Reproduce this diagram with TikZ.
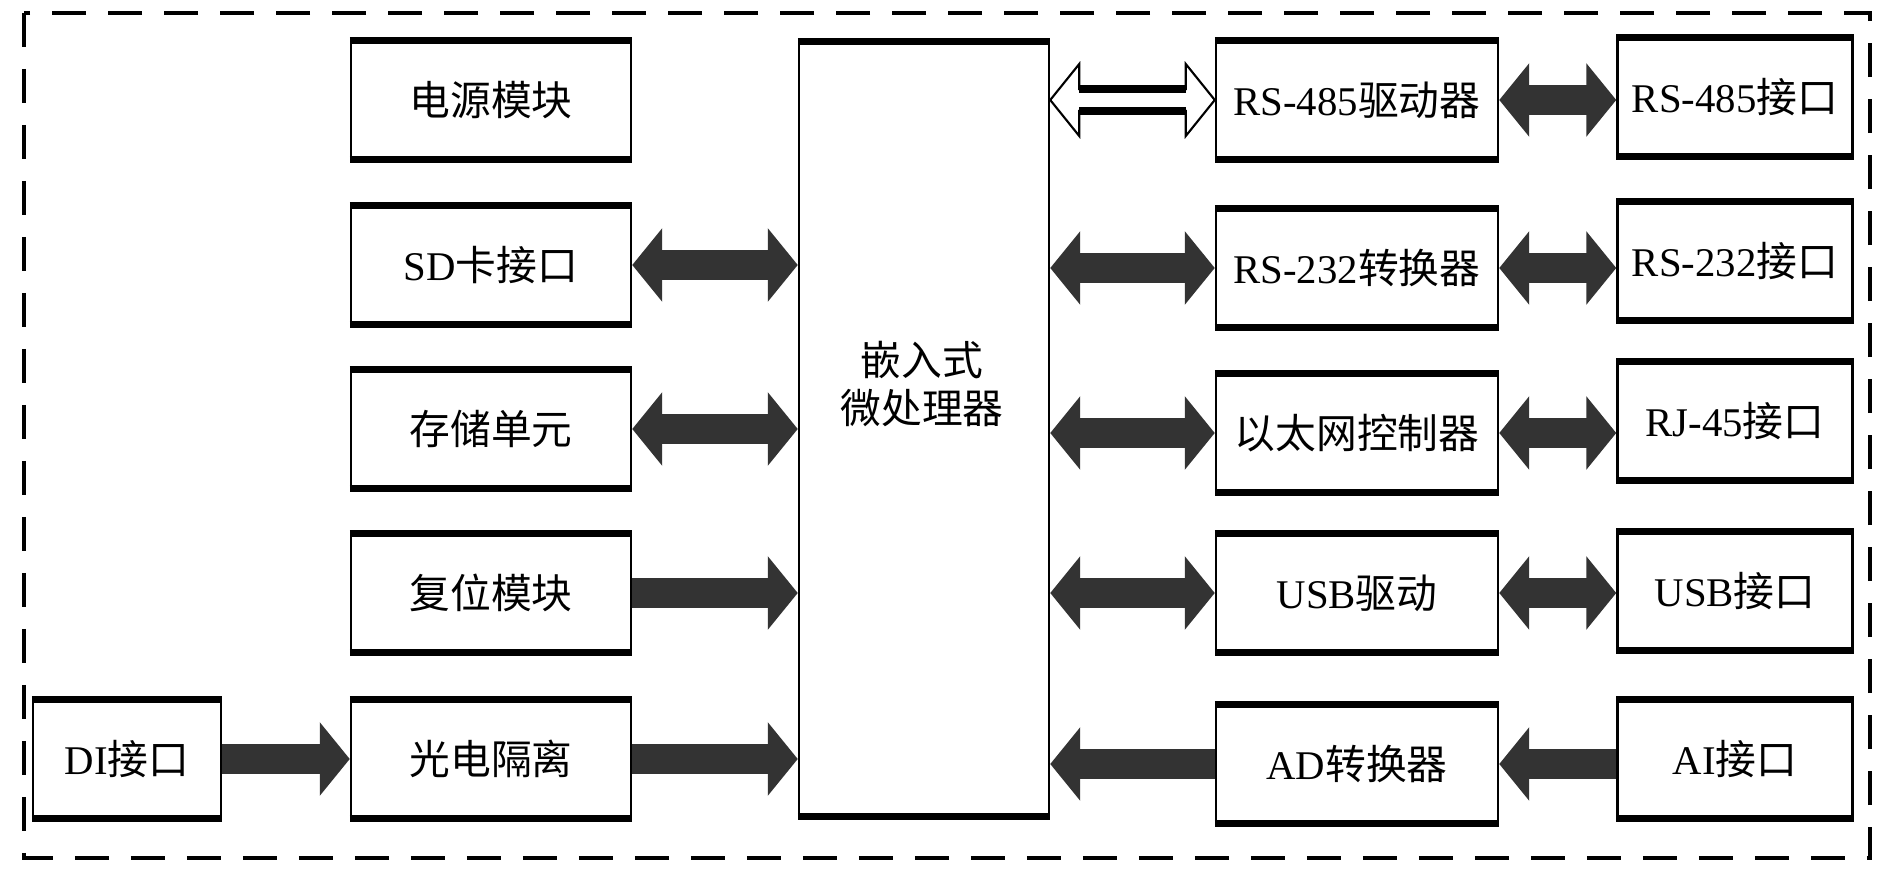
\documentclass[tikz,border=0pt]{standalone}
\usepackage{fontspec}
\setmainfont{Liberation Serif}
\newfontfamily\cjk{Noto Sans CJK SC}
\usetikzlibrary{arrows.meta,calc}

\begin{document}
\begin{tikzpicture}
  [every node/.style={font=\fontsize{11.6pt}{13.6pt}\selectfont},
   blk/.style={draw, line width=0.7pt, inner sep=0pt, minimum height=1.16cm},
   busone/.style={line width=0.3cm, color=black!80, -{Triangle[length=0.3cm,width=0.72cm]}},
   busboth/.style={line width=0.3cm, color=black!80, {Triangle[length=0.3cm,width=0.72cm]}-{Triangle[length=0.3cm,width=0.72cm]}}]

 \useasboundingbox (0,0) rectangle (18.9,-8.69);
 \draw[line width=1.2pt, dash pattern=on 0.34cm off 0.22cm] (0.24,-0.13) rectangle (18.70,-8.58);

 % left side
 \node[blk, minimum width=2.80cm] (pwr)  at (4.91,-1.00) {{\cjk 电源模块}};
 \node[blk, minimum width=2.80cm] (sd)   at (4.91,-2.65) {SD{\cjk 卡接口}};
 \node[blk, minimum width=2.80cm] (mem)  at (4.91,-4.29) {{\cjk 存储单元}};
 \node[blk, minimum width=2.80cm] (rst)  at (4.91,-5.93) {{\cjk 复位模块}};
 \node[blk, minimum width=2.80cm] (opto) at (4.91,-7.59) {{\cjk 光电隔离}};
 \node[blk, minimum width=1.88cm] (di)   at (1.27,-7.59) {DI{\cjk 接口}};

 % processor
 \node[blk, minimum width=2.50cm, minimum height=7.72cm] (mcu) at (9.24,-4.29) {};
 \node[align=center] (mcutxt) at (9.22,-3.84) {{\cjk 嵌入式}\\{\cjk 微处理器}};

 % right side
 \node[blk, minimum width=2.82cm] (d485) at (13.57,-1.00) {RS-485{\cjk 驱动器}};
 \node[blk, minimum width=2.82cm] (c232) at (13.57,-2.68) {RS-232{\cjk 转换器}};
 \node[blk, minimum width=2.82cm] (eth)  at (13.57,-4.33) {{\cjk 以太网控制器}};
 \node[blk, minimum width=2.82cm] (usbd) at (13.57,-5.93) {USB{\cjk 驱动}};
 \node[blk, minimum width=2.82cm] (adc)  at (13.57,-7.64) {AD{\cjk 转换器}};

 \node[blk, minimum width=2.35cm] (p485) at (17.35,-0.97) {RS-485{\cjk 接口}};
 \node[blk, minimum width=2.35cm] (p232) at (17.35,-2.61) {RS-232{\cjk 接口}};
 \node[blk, minimum width=2.35cm] (rj45) at (17.35,-4.21) {RJ-45{\cjk 接口}};
 \node[blk, minimum width=2.35cm] (pusb) at (17.35,-5.91) {USB{\cjk 接口}};
 \node[blk, minimum width=2.35cm] (ai)   at (17.35,-7.59) {AI{\cjk 接口}};

 % heavy top and bottom edges
 \foreach \n in {pwr, sd, mem, rst, opto, di, mcu, d485, c232, eth, usbd, adc, p485, p232, rj45, pusb, ai}
   \draw[line width=2pt] (\n.north west) -- (\n.north east) (\n.south west) -- (\n.south east);

 % buses
 \foreach \from in {sd, mem}
   \draw[busboth] (\from.east) -- (\from.east -| mcu.west);
 \foreach \from in {rst, opto}
   \draw[busone] (\from.east) -- (\from.east -| mcu.west);
 \draw[busone] (di) -- (opto);

 \foreach \to in {c232, eth, usbd}
   \draw[busboth] (mcu.east |- \to.west) -- (\to.west);
 \draw[busone] (adc) -- (adc.west -| mcu.east);

 \foreach \from/\to in {d485/p485, c232/p232, eth/rj45, usbd/pusb}
   \draw[busboth] (\from.east) -- (\from.east -| \to.west);
 \draw[busone] (ai.west |- adc.east) -- (adc.east);

 % open bus to the RS-485 driver
 \coordinate (busl) at (mcu.east |- d485.west);
 \draw[line width=0.6pt] (busl) -- ++(0.29,0.36) -- ++(0,-0.25) -- ($(d485.west)+(-0.29,0.11)$) -- ++(0,0.25) -- (d485.west)
   -- ++(-0.29,-0.36) -- ++(0,0.25) -- ($(busl)+(0.29,-0.11)$) -- ++(0,-0.25) -- cycle;
 \draw[line width=2pt] ($(busl)+(0.29,0.11)$) -- ($(d485.west)+(-0.29,0.11)$)
   ($(busl)+(0.29,-0.11)$) -- ($(d485.west)+(-0.29,-0.11)$);

\end{tikzpicture}
\end{document}
